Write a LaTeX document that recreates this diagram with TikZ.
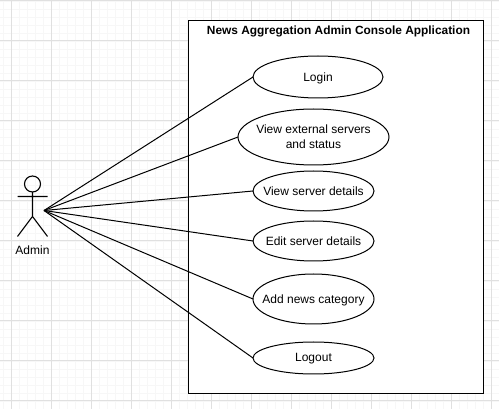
\documentclass[tikz,border=0pt]{standalone}
\usepackage{fontspec}
\setmainfont{Liberation Sans}
\usetikzlibrary{shapes.geometric}
\tikzset{
  usecase/.style={draw=black,fill=white,ellipse,inner xsep=-35pt,inner ysep=-10pt,outer sep=0pt,line width=1pt,align=center,text depth=0.5pt,font=\fontsize{12}{15}\selectfont},
  link/.style={draw=black,line width=1pt},
  actorline/.style={draw=black,line width=1.1pt},
  minorgrid/.style={draw=black!3,line width=0.8pt},
  majorgrid/.style={draw=black!12,line width=1pt},
  sysbox/.style={draw=black,fill=white,line width=1.2pt},
  plain/.style={inner sep=0pt,font=\fontsize{12}{15}\selectfont}
}
\begin{document}
\begin{tikzpicture}[x=1pt,y=-1pt]
\useasboundingbox (0,0) rectangle (499,409);
\fill[white] (0,0) rectangle (499,409);
% grid
\foreach \i in {0,...,62} {\draw[minorgrid] ({3.5+8*\i},0) -- ({3.5+8*\i},409);}
\foreach \i in {0,...,51} {\draw[minorgrid] (0,{1+8*\i}) -- (499,{1+8*\i});}
\foreach \i in {0,...,12} {\draw[majorgrid] ({11.5+40*\i},0) -- ({11.5+40*\i},409);}
\foreach \i in {0,...,10} {\draw[majorgrid] (0,{1+40*\i}) -- (499,{1+40*\i});}
% system box
\node[sysbox,minimum width=295pt,minimum height=373pt,inner sep=0pt] (system) at (336,207) {};
\node[plain,font=\fontsize{11.9}{15}\selectfont\bfseries] (title) at (338.5,31) {News Aggregation Admin Console Application};
% actor
\coordinate (hub) at (44,210.5);
\draw[actorline] (32.5,184) circle (8);
\draw[actorline] (32.5,192) -- (32.5,216.5) (17.5,196.5) -- (47.5,196.5)
  (17.5,236.5) -- (32.5,216.5) -- (47.5,236.5);
\node[plain] (admin) at (32.5,250) {Admin};
% use cases
\node[usecase,minimum width=130pt,minimum height=42pt] (login) at (318,77) {Login};
\node[usecase,minimum width=151pt,minimum height=56pt] (ext) at (313.5,137) {View external servers\\and status};
\node[usecase,minimum width=121pt,minimum height=40pt] (view) at (313.5,191) {View server details};
\node[usecase,minimum width=121pt,minimum height=40pt] (edit) at (313.5,241) {Edit server details};
\node[usecase,minimum width=121pt,minimum height=50pt] (add) at (313.5,299) {Add news category};
\node[usecase,minimum width=121pt,minimum height=32pt] (logout) at (313.5,358) {Logout};
% connectors
\foreach \t in {login,ext,view,edit,add,logout} {\draw[link] (hub) -- (\t.west);}
\end{tikzpicture}
\end{document}
